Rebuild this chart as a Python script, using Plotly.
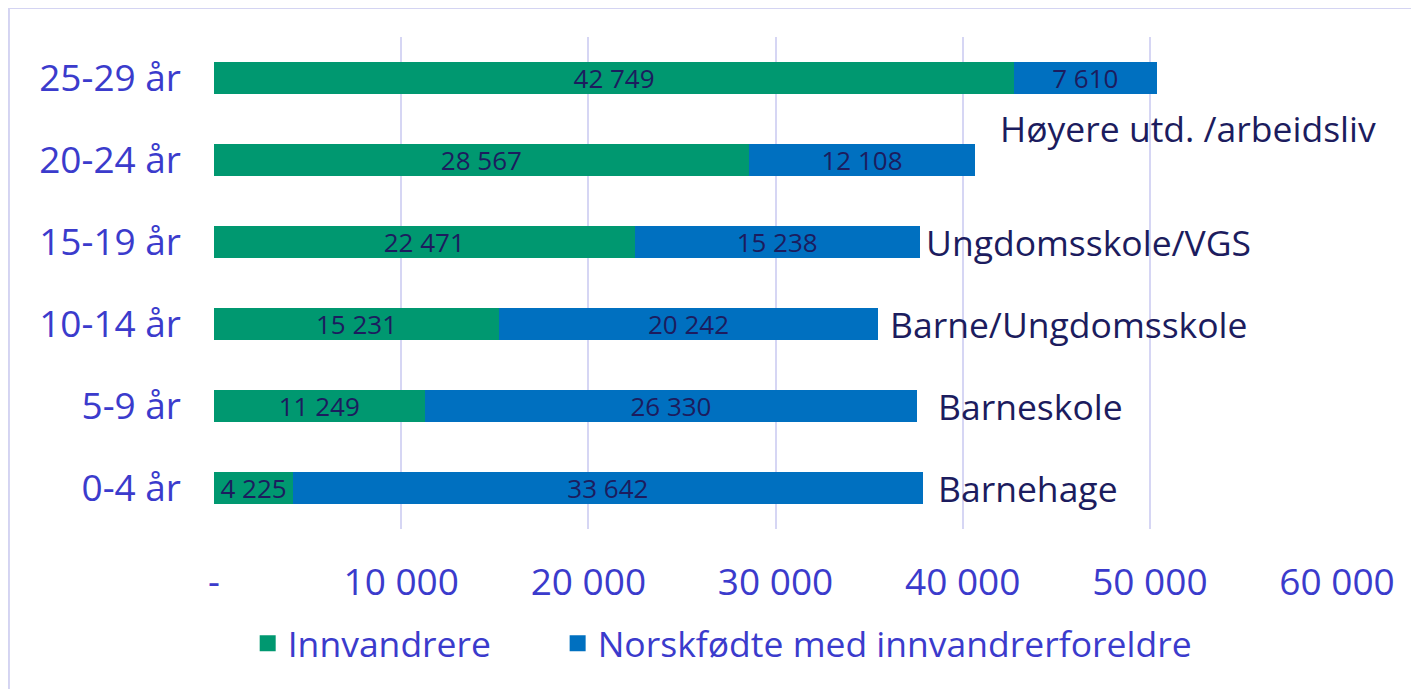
import plotly.graph_objects as go

categories = ["0-4 år", "5-9 år", "10-14 år", "15-19 år", "20-24 år", "25-29 år"]
innvandrere = [4225, 11249, 15231, 22471, 28567, 42749]
norskfodte = [33642, 26330, 20242, 15238, 12108, 7610]
series_names = ["Innvandrere", "Norskfødte med innvandrerforeldre"]
tick_vals = [0, 10000, 20000, 30000, 40000, 50000, 60000]
tick_text = ["-", "10 000", "20 000", "30 000", "40 000", "50 000", "60 000"]
annot_text = ["Barnehage", "Barneskole", "Barne/Ungdomsskole", "Ungdomsskole/VGS", "Høyere utd. /arbeidsliv"]
annot_x = [38600, 38600, 36000, 37950, 41900]
annot_y = [0, 1, 2, 3, 4.39]

FONT = "Open Sans"
GREEN = "#009870"
BLUE = "#0070c0"
NAVY = "#1c1c5e"
TICK = "#3b3bcc"

def fmt(v):
    return f"{v:,}".replace(",", " ")

fig = go.Figure()
for name, vals, col, lg in [(series_names[0], innvandrere, GREEN, "legend"),
                            (series_names[1], norskfodte, BLUE, "legend2")]:
    fig.add_trace(go.Bar(
        y=categories, x=vals, name=name, orientation="h",
        marker=dict(color=col, line=dict(width=0)),
        text=[fmt(v) for v in vals], textposition="inside",
        insidetextanchor="middle", textangle=0, constraintext="none",
        insidetextfont=dict(family=FONT, size=26, color=NAVY),
        width=0.4, showlegend=False,
    ))
    fig.add_trace(go.Scatter(
        x=[None], y=[None], mode="markers", name=name, legend=lg,
        marker=dict(symbol="square", size=18, color=col),
        showlegend=True, hoverinfo="skip",
    ))

for t, x, y in zip(annot_text, annot_x, annot_y):
    fig.add_annotation(x=x, y=y, xref="x", yref="y", text=t, showarrow=False,
                       xanchor="left", yanchor="middle",
                       font=dict(family=FONT, size=35.5, color=NAVY))

fig.add_shape(type="rect", xref="paper", yref="paper",
              x0=-0.1826, x1=1.07, y0=-0.4, y1=1.059,
              line=dict(color="#d4d4f2", width=2), fillcolor="rgba(0,0,0,0)", layer="below")

legend_common = dict(orientation="h", xanchor="left", y=-0.233, yanchor="middle",
                     font=dict(family=FONT, size=35.5, color=TICK),
                     bgcolor="rgba(0,0,0,0)")

fig.update_layout(
    barmode="stack",
    width=1411, height=681,
    margin=dict(l=206, r=82, t=29, b=160),
    paper_bgcolor="white", plot_bgcolor="white",
    font=dict(family=FONT),
    showlegend=True,
    legend=dict(x=0.03, **legend_common),
    legend2=dict(x=0.306, **legend_common),
    xaxis=dict(range=[0, 60000], tickvals=tick_vals, ticktext=tick_text,
               showgrid=True, gridcolor="#d6d6f4", gridwidth=1.5,
               zeroline=False, showline=False,
               tickfont=dict(family=FONT, size=37, color=TICK),
               ticklabelstandoff=28),
    yaxis=dict(categoryorder="array", categoryarray=categories,
               showgrid=False, zeroline=False, showline=False,
               tickfont=dict(family=FONT, size=37, color=TICK),
               ticklabelstandoff=32),
)
fig.write_html("out.html")
